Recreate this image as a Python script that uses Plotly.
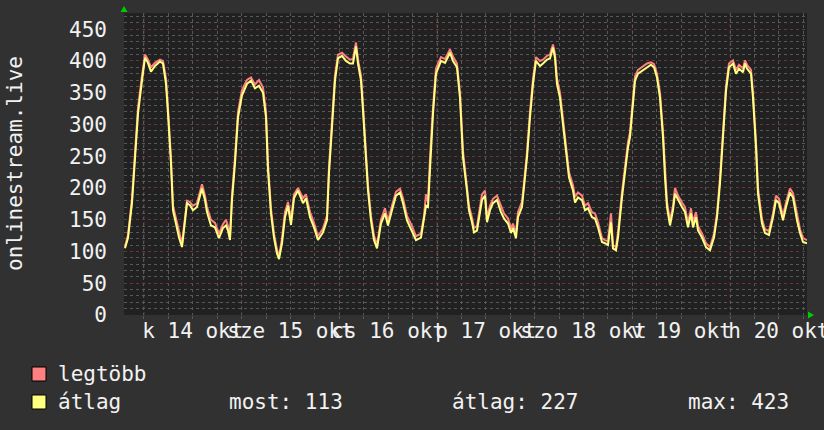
import plotly.graph_objects as go

# ---- data -------------------------------------------------------------
# hours since 2025-10-14 00:00
hours = [-4.67, -3.93, -2.95, -2.21, -1.47, -0.49, 0.25, 0.98, 1.72, 2.70,
         3.93, 4.67, 5.41, 5.90, 6.63, 7.13, 8.11, 8.60, 9.34, 9.83,
         10.57, 11.30, 12.04, 13.02, 14.25, 14.99, 15.48, 16.46, 17.44, 18.43,
         19.41, 20.15, 20.64, 21.13, 21.62, 22.36, 23.10, 24.08, 25.31, 26.29,
         27.27, 28.26, 29.24, 29.98, 30.47, 31.20, 31.94, 32.68, 33.17, 33.91,
         34.64, 35.38, 36.12, 36.86, 37.84, 39.07, 39.80, 40.79, 41.77, 42.75,
         43.98, 44.96, 45.45, 46.19, 46.93, 47.67, 48.65, 49.63, 50.61, 51.35,
         52.09, 52.58, 53.32, 53.81, 54.55, 55.04, 55.77, 56.51, 57.25, 58.23,
         59.21, 59.95, 60.93, 61.92, 62.90, 63.64, 64.62, 65.85, 66.83, 68.06,
         68.80, 69.29, 69.78, 70.27, 71.01, 71.74, 72.97, 73.96, 75.18, 75.92,
         76.90, 77.64, 78.38, 79.36, 79.85, 80.59, 81.08, 81.82, 82.31, 83.05,
         83.78, 84.28, 85.01, 85.75, 86.73, 87.71, 88.45, 89.43, 90.17, 90.66,
         91.40, 91.89, 92.87, 93.37, 94.10, 94.84, 95.58, 96.31, 97.30, 98.03,
         99.02, 99.75, 100.49, 100.98, 101.47, 102.21, 102.95, 103.93, 104.42, 105.41,
         105.90, 106.63, 107.62, 108.35, 109.09, 110.07, 110.81, 111.55, 112.53, 113.27,
         114.00, 114.74, 115.23, 115.97, 116.46, 117.44, 118.18, 118.92, 119.41, 120.15,
         120.64, 121.38, 122.60, 123.59, 124.57, 125.31, 126.04, 126.78, 127.52, 128.01,
         128.50, 129.24, 129.98, 130.47, 131.20, 132.19, 132.92, 133.66, 134.40, 134.89,
         135.63, 136.12, 137.10, 138.08, 139.07, 140.05, 140.79, 141.52, 142.26, 143.00,
         143.73, 144.72, 145.45, 146.19, 147.17, 147.67, 148.16, 149.14, 149.63, 150.37,
         150.86, 151.84, 152.58, 153.56, 154.55, 155.28, 156.02, 157.00, 157.74, 158.72,
         159.46, 160.44, 161.18, 161.92, 162.90]

atlag = [105, 121, 176, 239, 317, 369, 405, 397, 383, 392,
         399, 396, 364, 317, 239, 165, 138, 122, 107, 133,
         176, 173, 165, 170, 199, 181, 162, 141, 138, 121,
         137, 141, 133, 118, 181, 239, 311, 346, 364, 369,
         357, 361, 350, 311, 228, 160, 122, 97, 88, 113,
         154, 172, 142, 184, 196, 176, 184, 154, 138, 118,
         130, 149, 223, 295, 369, 404, 408, 400, 396, 396,
         423, 396, 369, 322, 254, 196, 149, 118, 105, 144,
         160, 141, 165, 188, 193, 176, 149, 133, 118, 122,
         149, 172, 170, 239, 317, 380, 400, 397, 413, 400,
         390, 342, 248, 196, 165, 146, 130, 133, 154, 181,
         188, 146, 165, 176, 181, 162, 152, 144, 129, 137,
         121, 154, 170, 201, 248, 311, 364, 400, 392, 396,
         402, 404, 421, 405, 364, 342, 302, 248, 217, 196,
         177, 185, 181, 165, 168, 154, 152, 138, 115, 113,
         110, 146, 105, 102, 122, 185, 228, 264, 280, 327,
         369, 380, 385, 390, 394, 390, 374, 342, 280, 217,
         170, 141, 165, 191, 181, 170, 162, 138, 160, 138,
         154, 133, 122, 107, 102, 122, 154, 207, 280, 353,
         390, 396, 380, 388, 382, 396, 388, 380, 342, 264,
         191, 144, 129, 126, 154, 181, 176, 149, 170, 193,
         185, 149, 129, 115, 113]

legtobb = [108, 126, 183, 247, 326, 377, 410, 402, 390, 397,
           402, 400, 372, 326, 248, 172, 145, 128, 112, 139,
           180, 178, 172, 176, 206, 188, 170, 150, 145, 128,
           143, 150, 140, 124, 188, 248, 320, 354, 370, 374,
           363, 370, 358, 320, 238, 168, 128, 103, 92, 120,
           162, 178, 150, 190, 200, 184, 190, 162, 145, 124,
           136, 156, 232, 305, 378, 410, 413, 407, 402, 403,
           429, 402, 377, 330, 262, 204, 156, 125, 110, 150,
           168, 148, 172, 194, 199, 184, 156, 140, 124, 128,
           156, 190, 178, 248, 326, 388, 406, 403, 418, 407,
           396, 350, 258, 204, 172, 153, 137, 140, 162, 190,
           196, 153, 172, 183, 188, 170, 160, 152, 136, 144,
           127, 162, 178, 208, 256, 320, 372, 406, 400, 402,
           408, 410, 426, 411, 372, 350, 310, 256, 225, 204,
           186, 193, 188, 172, 176, 162, 160, 146, 121, 118,
           116, 160, 110, 107, 130, 193, 236, 272, 288, 335,
           376, 386, 391, 396, 398, 395, 380, 350, 288, 226,
           178, 148, 172, 200, 188, 177, 170, 145, 168, 146,
           162, 140, 128, 113, 107, 128, 160, 215, 288, 360,
           396, 401, 386, 394, 388, 401, 394, 386, 350, 272,
           200, 151, 135, 132, 160, 188, 183, 156, 177, 199,
           192, 156, 135, 121, 118]

day_labels = ["k 14 okt", "sze 15 okt", "cs 16 okt", "p 17 okt",
              "szo 18 okt", "v 19 okt", "h 20 okt"]
day_noon = [12, 36, 60, 84, 108, 132, 156]
day_start = [0, 24, 48, 72, 96, 120, 144]
y_ticks = [0, 50, 100, 150, 200, 250, 300, 350, 400, 450]

series_names = ["legtöbb", "átlag"]
stat_texts = ["most: 113", "átlag: 227", "max: 423"]
y_title = "onlinestream.live"

# ---- style ------------------------------------------------------------
W, H = 824, 430
L, R, T, B = 124, 807, 13, 315
FONT = "DejaVu Sans Mono"
FS = 21
TXT = "#f2f2f2"
PINK = "#ff8080"
YELLOW = "#ffff80"
MINOR_GRID = "#585858"
MAJOR_GRID = "#6e3636"


def px(x):
    return (x - L) / (R - L)


def py(y):
    return (B - y) / (B - T)


fig = go.Figure()
fig.add_trace(go.Scatter(x=hours, y=legtobb, mode="lines",
                         line=dict(color=PINK, width=2), name=series_names[0]))
fig.add_trace(go.Scatter(x=hours, y=atlag, mode="lines",
                         line=dict(color=YELLOW, width=2), name=series_names[1]))

minor_vals = [h for h in range(-6, 170, 6)]

fig.update_layout(
    width=W, height=H,
    margin=dict(l=L, r=W - R, t=T, b=H - B, pad=0, autoexpand=False),
    paper_bgcolor="#313131",
    plot_bgcolor="#212121",
    showlegend=False,
    font=dict(family=FONT, size=FS, color=TXT),
    xaxis=dict(
        range=[-4.91, 162.9],
        tickvals=day_noon, ticktext=day_labels, tickangle=0,
        ticklabeloverflow="allow",
        showgrid=False, zeroline=False, showline=False,
        ticks="", ticklabelstandoff=1, automargin=False,
        tickfont=dict(family=FONT, size=FS, color=TXT),
        minor=dict(tickvals=minor_vals, showgrid=True, gridcolor=MINOR_GRID,
                   griddash="dot", gridwidth=1, ticks="outside", ticklen=3,
                   tickcolor=MINOR_GRID),
    ),
    yaxis=dict(
        range=[0, 475.5],
        tickvals=y_ticks,
        showgrid=True, gridcolor=MAJOR_GRID, griddash="dot", gridwidth=1,
        zeroline=False, showline=False, ticks="", automargin=False,
        ticklabelstandoff=16,
        tickfont=dict(family=FONT, size=FS, color=TXT),
        minor=dict(dtick=10, tick0=0, showgrid=True, gridcolor=MINOR_GRID,
                   griddash="dot", gridwidth=1),
    ),
)

shapes = []
for d in day_start:
    shapes.append(dict(type="line", xref="x", yref="paper", x0=d, x1=d, y0=0, y1=1,
                       line=dict(color=MAJOR_GRID, width=1, dash="dot"), layer="below"))
# axis arrows
shapes.append(dict(type="path", xref="paper", yref="paper",
                   path=f"M {px(120.5)},{py(12)} L {px(127.5)},{py(12)} L {px(124)},{py(6)} Z",
                   fillcolor="#00cc00", line=dict(width=0)))
shapes.append(dict(type="path", xref="paper", yref="paper",
                   path=f"M {px(808)},{py(311.5)} L {px(808)},{py(318.5)} L {px(814)},{py(315)} Z",
                   fillcolor="#00cc00", line=dict(width=0)))
# legend squares
for yc, col in [(374, PINK), (402, YELLOW)]:
    shapes.append(dict(type="rect", xref="paper", yref="paper",
                       x0=px(32), x1=px(46), y0=py(yc + 7), y1=py(yc - 7),
                       fillcolor=col, line=dict(color="#000000", width=1)))
fig.update_layout(shapes=shapes)

ann = []
ann.append(dict(text=y_title, xref="paper", yref="paper", x=px(15), y=0.5,
                textangle=-90, showarrow=False, xanchor="center", yanchor="middle",
                font=dict(family=FONT, size=FS, color=TXT)))
ann.append(dict(text=series_names[0], xref="paper", yref="paper", x=px(56), y=py(374),
                showarrow=False, xanchor="left", yanchor="middle"))
ann.append(dict(text=series_names[1], xref="paper", yref="paper", x=px(56), y=py(402),
                showarrow=False, xanchor="left", yanchor="middle"))
for xs, t in zip([227, 450, 686], stat_texts):
    ann.append(dict(text=t, xref="paper", yref="paper", x=px(xs), y=py(402),
                    showarrow=False, xanchor="left", yanchor="middle"))
fig.update_layout(annotations=ann)

fig.write_html("out.html", config={"displayModeBar": False},
               post_script="document.body.style.margin='0';document.body.style.overflow='hidden';")
